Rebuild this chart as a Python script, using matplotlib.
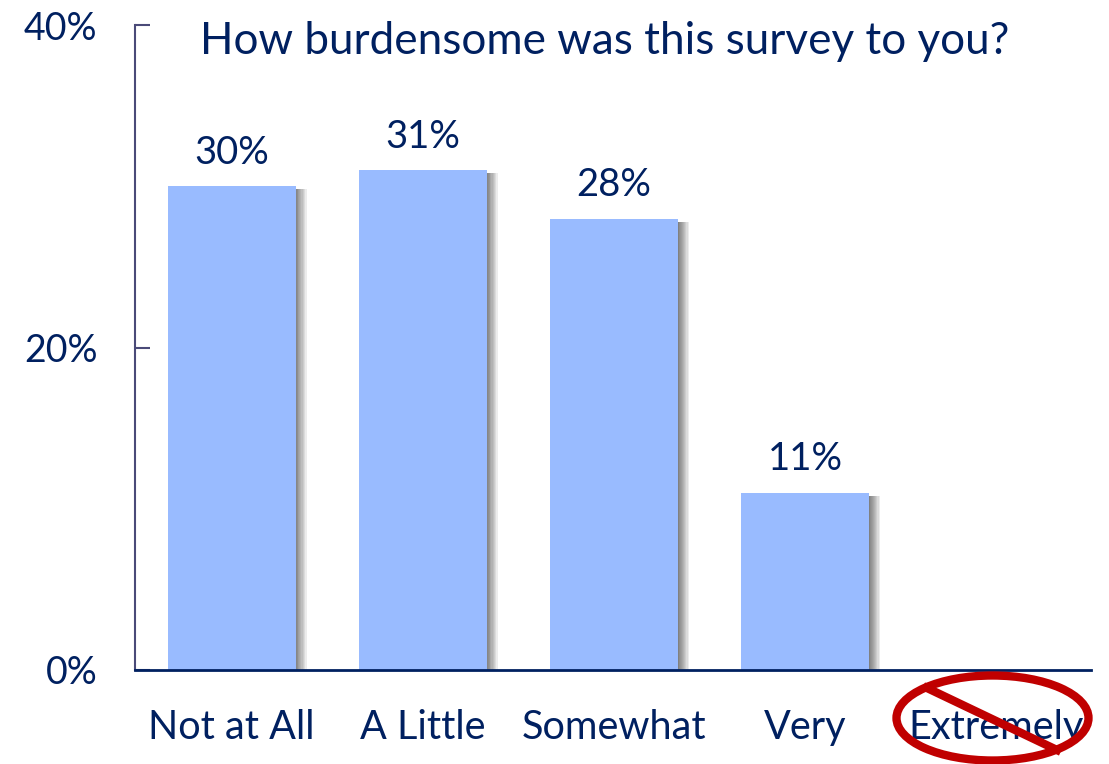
import matplotlib
matplotlib.use('Agg')
import matplotlib.pyplot as plt
from matplotlib.patches import Ellipse
from matplotlib.lines import Line2D

plt.rcParams['font.family'] = ['Lato', 'DejaVu Sans']

categories = ['Not at All', 'A Little', 'Somewhat', 'Very', 'Extremely']
values = [30, 31, 28, 11]
y_ticks = [0, 20, 40]
title = 'How burdensome was this survey to you?'

W, H = 1109, 764
navy = '#002060'
bar_color = '#99BBFF'
bar_width = 0.67

fig = plt.figure(figsize=(W / 100, H / 100), dpi=100)
ax = fig.add_axes([135 / W, 1 - 670 / H, 956 / W, 645 / H])

xs = list(range(len(values)))
ax.bar(xs, values, width=bar_width, color=bar_color, zorder=3)

# soft shadow on the right side of each bar, denser close to the bar
for k in range(1, 13):
    grow = (k / 12) ** 1.6 * 11 / 191.2
    ax.bar([x - bar_width / 2 for x in xs], [v - 0.2 for v in values],
           width=bar_width + grow, align='edge',
           color='#555555', alpha=0.11, linewidth=0, zorder=2)

for x, v in zip(xs, values):
    ax.annotate(f'{v}%', (x, v), xytext=(0, 11), textcoords='offset points',
                ha='center', va='bottom', fontsize=27.5, color=navy)

ax.set_xlim(-0.505, 4.495)
ax.set_ylim(0, 40)
ax.set_xticks(range(len(categories)))
ax.set_xticklabels(categories)
ax.set_yticks(y_ticks)
ax.set_yticklabels([f'{t}%' for t in y_ticks])
ax.tick_params(axis='x', length=0, pad=28, labelsize=28.5, labelcolor=navy)
ax.tick_params(axis='y', direction='in', length=11, width=1.5, color='#4a4a78',
               pad=27, labelsize=27, labelcolor=navy)

for s in ['top', 'right']:
    ax.spines[s].set_visible(False)
ax.spines['left'].set_color('#4a4a78')
ax.spines['left'].set_linewidth(1.5)
ax.spines['bottom'].set_color(navy)
ax.spines['bottom'].set_linewidth(2)
ax.spines['bottom'].set_zorder(5)

fig.text(605 / W, 1 - 42 / H, title, ha='center', va='center', fontsize=31.7, color=navy)

# red "not" sign over the last category, placed in figure pixels
red = '#C00000'
fig.add_artist(Ellipse((992.5 / W, 1 - 718 / H), 192 / W, 85 / H, transform=fig.transFigure,
                       fill=False, edgecolor=red, linewidth=6))
fig.add_artist(Line2D([927 / W, 1057 / W], [1 - 688 / H, 1 - 750 / H], transform=fig.transFigure,
                      color=red, linewidth=6))

fig.savefig('out.png', dpi=100)
